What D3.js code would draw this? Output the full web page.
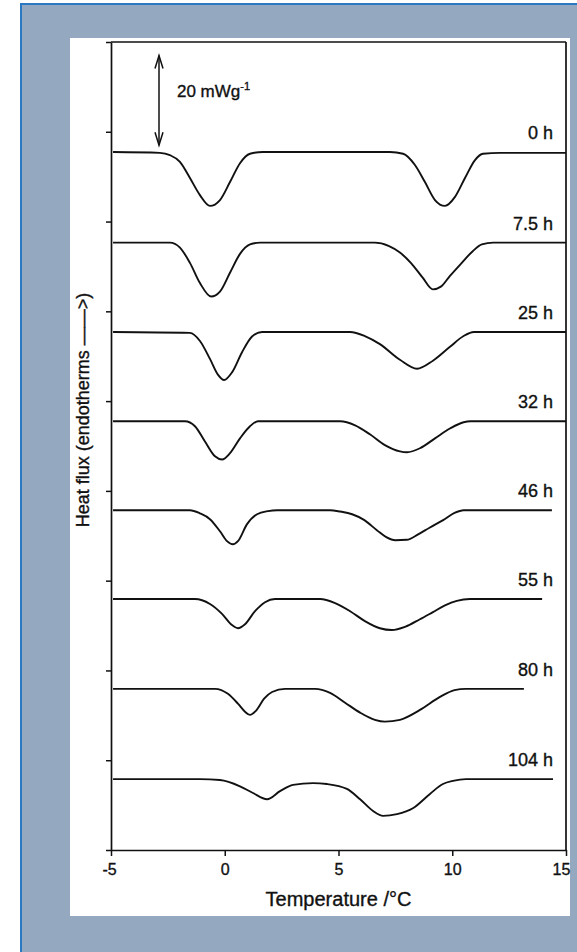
<!DOCTYPE html>
<html>
<head>
<meta charset="utf-8">
<script src="https://cdn.jsdelivr.net/npm/d3@7"></script>
<style>
  html, body { margin: 0; padding: 0; background: #ffffff; }
  svg { display: block; }
  text { font-family: "Liberation Sans", Arial, sans-serif; fill: #111; stroke: #111; stroke-width: 0.35px; }
</style>
</head>
<body>
<svg id="chart" width="577" height="952"></svg>
<script>
// Storage times (hours) of the samples, one DSC trace each
const traceLabels = ["0 h", "7.5 h", "25 h", "32 h", "46 h", "55 h", "80 h", "104 h"];
// Vertical offset of each trace (mW/g) so the traces are stacked
const traceOffsets = [155.5, 135.3, 115.4, 95.5, 75.7, 55.9, 35.9, 15.8];

// [temperature °C, heat flux relative to the trace baseline, mW/g]
const trace0h = [[-4.91,0],[-2.85,-0.2],[-2.41,-0.7],[-1.97,-2.2],[-1.53,-5.8],[-1.09,-9.6],[-0.65,-12.0],[-0.21,-10.7],[0.23,-6.7],[0.67,-2.5],[1.11,-0.4],[1.68,0],[7.26,0],[7.84,-0.4],[8.36,-2.9],[8.80,-6.7],[9.24,-10.7],[9.68,-12.0],[10.12,-10.0],[10.56,-5.8],[11.00,-1.8],[11.35,-0.4],[12.10,-0.2],[15.00,-0.2]];
const trace7h = [[-4.91,0],[-2.41,0],[-1.97,-1.1],[-1.53,-4.5],[-1.09,-9.0],[-0.60,-12.0],[-0.21,-10.9],[0.23,-6.7],[0.67,-2.5],[1.11,-0.4],[1.55,0],[6.60,0],[7.20,-0.7],[7.70,-2.2],[8.20,-4.6],[8.70,-7.8],[9.15,-10.4],[9.50,-9.8],[9.90,-7.4],[10.40,-4.6],[10.90,-1.9],[11.30,-0.4],[11.80,0],[15.00,0]];
const trace25h = [[-4.91,0],[-1.53,-0.2],[-1.09,-2.0],[-0.65,-6.0],[-0.30,-9.5],[-0.03,-10.7],[0.32,-9.0],[0.76,-4.5],[1.20,-1.0],[1.64,0],[5.51,0],[6.16,-0.9],[6.82,-2.7],[7.70,-6.2],[8.45,-8.2],[9.15,-6.4],[9.90,-3.3],[10.50,-0.9],[10.95,0],[15.00,0]];
const trace32h = [[-4.91,0],[-1.75,0],[-1.31,-1.1],[-0.87,-4.5],[-0.43,-7.8],[-0.12,-8.5],[0.23,-7.1],[0.67,-3.8],[1.11,-1.1],[1.46,0],[5.07,0],[5.73,-0.9],[6.38,-2.9],[7.04,-5.3],[7.70,-6.7],[8.01,-6.9],[8.58,-6.0],[9.24,-3.8],[9.90,-1.6],[10.50,-0.2],[10.80,0],[15.00,0]];
const trace46h = [[-4.91,0],[-1.53,0],[-1.09,-0.7],[-0.65,-2.0],[-0.21,-4.7],[0.10,-6.9],[0.36,-7.6],[0.58,-6.9],[0.98,-3.1],[1.42,-0.9],[1.90,-0.2],[2.30,0],[4.63,0],[5.07,-0.3],[5.60,-0.9],[6.10,-2.1],[6.70,-4.5],[7.10,-6.0],[7.50,-6.7],[8.00,-6.6],[8.50,-5.4],[9.00,-3.9],[9.60,-2.2],[10.10,-0.6],[10.50,0],[14.38,0]];
const trace55h = [[-4.91,0],[-1.31,0],[-0.65,-1.1],[-0.12,-3.3],[0.32,-5.8],[0.58,-6.5],[0.89,-5.6],[1.33,-2.7],[1.77,-0.7],[2.21,0],[4.19,0],[4.85,-0.9],[5.51,-2.7],[6.16,-4.9],[6.82,-6.5],[7.35,-6.9],[7.92,-6.2],[8.58,-4.5],[9.15,-2.9],[9.68,-1.4],[10.20,-0.4],[10.78,0],[13.95,0]];
const trace80h = [[-4.91,0],[-0.43,0],[0.14,-1.1],[0.58,-3.3],[0.89,-5.1],[1.11,-5.8],[1.37,-4.9],[1.73,-2.2],[2.08,-0.7],[2.65,0],[3.97,0],[4.63,-0.9],[5.29,-3.1],[5.95,-5.3],[6.60,-6.9],[7.04,-7.3],[7.70,-6.9],[8.58,-4.7],[9.46,-1.8],[10.10,-0.3],[10.60,0],[13.15,0]];
const trace104h = [[-4.91,0],[-1.09,0],[-0.21,-0.2],[0.67,-1.6],[1.24,-3.1],[1.86,-4.5],[2.43,-2.7],[3.00,-1.3],[3.88,-0.9],[4.49,-1.1],[5.37,-2.2],[5.95,-4.5],[6.52,-7.1],[6.96,-8.2],[7.57,-7.8],[8.27,-6.5],[9.02,-3.3],[9.59,-1.1],[10.03,-0.4],[10.60,0],[14.43,0]];
const traces = [trace0h, trace7h, trace25h, trace32h, trace46h, trace55h, trace80h, trace104h];

// Axis ticks
const xTicks = [-5, 0, 5, 10, 15];
const yTicks = [0, 20, 40, 60, 80, 100, 120, 140, 160, 180];

// Scale bar: 20 mW/g drawn at a fixed temperature
const scaleBarTemp = -2.89;
const scaleBarRange = [157, 177];
const scaleBarText = "20 mWg";
const scaleBarSup = "-1";

const svg = d3.select("#chart");

// page frame
svg.append("rect").attr("x", 0).attr("y", 0).attr("width", 577).attr("height", 952).attr("fill", "#ffffff");
svg.append("rect").attr("x", 21).attr("y", 4).attr("width", 580).attr("height", 960)
  .attr("fill", "#94a9bf").attr("stroke", "#2a78c2").attr("stroke-width", 2);
svg.append("rect").attr("x", 70).attr("y", 38).attr("width", 500).attr("height", 878).attr("fill", "#ffffff");

const plot = { left: 111, right: 566, top: 42, bottom: 850 };

const x = d3.scaleLinear().domain([-5, 15]).range([plot.left, plot.right]);
const y = d3.scaleLinear().domain([0, 180]).range([plot.bottom, plot.top]);

// frame: top and right edges
svg.append("line").attr("x1", plot.left).attr("x2", plot.right).attr("y1", plot.top).attr("y2", plot.top)
  .attr("stroke", "#111").attr("stroke-width", 1.7);
svg.append("line").attr("x1", plot.right).attr("x2", plot.right).attr("y1", plot.top).attr("y2", plot.bottom)
  .attr("stroke", "#111").attr("stroke-width", 1.7);

// bottom axis
const xAxis = svg.append("g").attr("transform", `translate(0,${plot.bottom})`)
  .call(d3.axisBottom(x).tickValues(xTicks).tickSize(6).tickSizeOuter(0).tickPadding(8).tickFormat(d => String(d)));
xAxis.select(".domain").attr("stroke", "#111").attr("stroke-width", 1.7);
xAxis.selectAll(".tick line").attr("stroke", "#111").attr("stroke-width", 1.5);
xAxis.selectAll(".tick text").attr("font-size", 16).attr("font-family", "Liberation Sans, Arial, sans-serif")
  .attr("fill", "#111").attr("dx", d => d === 15 ? -5 : (d === -5 ? -2 : 0));

// left axis
const yAxis = svg.append("g").attr("transform", `translate(${plot.left},0)`)
  .call(d3.axisLeft(y).tickValues(yTicks).tickSize(5).tickSizeOuter(0).tickFormat(""));
yAxis.select(".domain").attr("stroke", "#111").attr("stroke-width", 1.7);
yAxis.selectAll(".tick line").attr("stroke", "#111").attr("stroke-width", 1.5);

// axis titles
svg.append("text").attr("x", x(5)).attr("y", 906).attr("text-anchor", "middle")
  .attr("font-size", 20).text("Temperature /°C");
svg.append("text").attr("transform", `translate(89,${410}) rotate(-90)`).attr("text-anchor", "middle")
  .attr("font-size", 18).text("Heat flux (endotherms ——>)");

// traces
const line = d3.line().x(d => x(d[0])).curve(d3.curveMonotoneX);
traces.forEach((tr, i) => {
  line.y(d => y(traceOffsets[i] + d[1]));
  svg.append("path").attr("d", line(tr)).attr("fill", "none")
    .attr("stroke", "#111").attr("stroke-width", 1.9).attr("stroke-linejoin", "round");
  svg.append("text").attr("x", x(14.43)).attr("y", y(traceOffsets[i]) - 13)
    .attr("text-anchor", "end").attr("font-size", 18).text(traceLabels[i]);
});

// scale bar with arrowheads at both ends
const sbx = x(scaleBarTemp);
const sy0 = y(scaleBarRange[0]), sy1 = y(scaleBarRange[1]);
const sb = svg.append("g").attr("stroke", "#111").attr("stroke-width", 1.5).attr("fill", "none");
sb.append("line").attr("x1", sbx).attr("x2", sbx).attr("y1", sy1).attr("y2", sy0);
sb.append("path").attr("d", `M${sbx - 4},${sy1 + 13} L${sbx},${sy1} L${sbx + 4},${sy1 + 13}`);
sb.append("path").attr("d", `M${sbx - 4},${sy0 - 13} L${sbx},${sy0} L${sbx + 4},${sy0 - 13}`);
const sbt = svg.append("text").attr("x", x(-2.1)).attr("y", y(167.7)).attr("font-size", 17);
sbt.append("tspan").text(scaleBarText);
sbt.append("tspan").attr("font-size", 11).attr("dy", -7).text(scaleBarSup);
</script>
</body>
</html>
